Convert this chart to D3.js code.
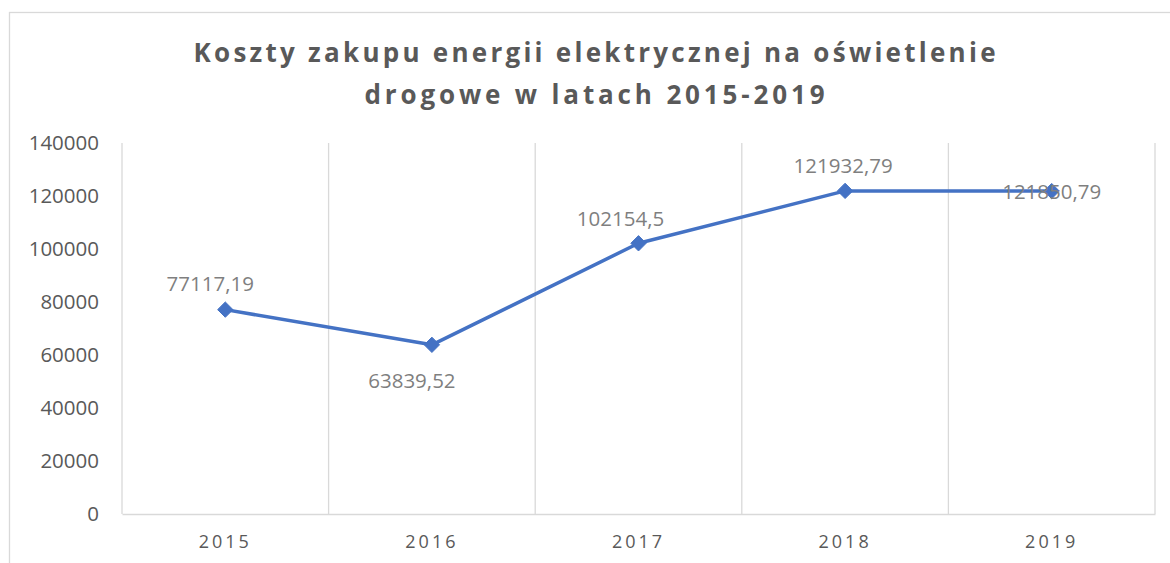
<!DOCTYPE html>
<html><head><meta charset="utf-8">
<script src="https://cdn.jsdelivr.net/npm/d3@7"></script>
<style>
html,body{margin:0;padding:0;background:#fff;}
svg{display:block;font-family:"Open Sans","Noto Sans",sans-serif;}
</style></head>
<body><svg id="c" width="1170" height="563"></svg>
<script>
const titleLines = ["Koszty zakupu energii elektrycznej na oświetlenie", "drogowe w latach 2015-2019"];
const years = ["2015", "2016", "2017", "2018", "2019"];
const costs = [77117.19, 63839.52, 102154.5, 121932.79, 121850.79];
const yTicks = [0, 20000, 40000, 60000, 80000, 100000, 120000, 140000];
// label placement offsets relative to the point (styling, not data)
const labelOffsets = [[-15,-27],[-20,35],[-18,-25],[-2,-26],[0,0]];

const svg = d3.select("#c");
const plot = {left:122, right:1155, top:143, bottom:514};
const grid = "#d9d9d9", txt = "#595959";

svg.append("rect").attr("x",9.5).attr("y",12.5).attr("width",1300).attr("height",700)
  .attr("fill","none").attr("stroke",grid).attr("stroke-width",1.3);

const x = d3.scaleBand().domain(years).range([plot.left, plot.right]).padding(0);
const y = d3.scaleLinear().domain([0,140000]).range([plot.bottom, plot.top]);

const bounds = years.map(d => x(d)).concat([x(years[years.length-1]) + x.bandwidth()]);
svg.append("g").selectAll("line").data(bounds).join("line")
  .attr("x1",d=>d).attr("x2",d=>d).attr("y1",y(140000)).attr("y2",y(0))
  .attr("stroke",grid).attr("stroke-width",1.3);

const xAxis = svg.append("g").attr("transform",`translate(0,${y(0)})`)
  .call(d3.axisBottom(x).tickSize(0).tickPadding(21));
xAxis.select(".domain").attr("stroke",grid).attr("stroke-width",1.3);
xAxis.selectAll("text").attr("fill",txt).style("font-size","18px").style("letter-spacing","3px")
  .attr("font-family","'Open Sans',sans-serif");

const yAxis = svg.append("g").attr("transform",`translate(${plot.left},0)`)
  .call(d3.axisLeft(y).tickValues(yTicks).tickSize(0).tickPadding(23).tickFormat(d=>String(d)));
yAxis.select(".domain").remove();
yAxis.selectAll("text").attr("fill",txt).style("font-size","20.5px").attr("font-family","'Open Sans',sans-serif");

svg.append("g").selectAll("text").data(titleLines).join("text")
  .attr("x",596).attr("y",(d,i)=>62+i*42).attr("text-anchor","middle")
  .attr("fill",txt).style("font-size","26px").style("font-weight","bold").style("letter-spacing","3px")
  .text(d=>d)
  .each(function(d,i){ this.setAttribute("textLength", i===0?805:463); this.setAttribute("lengthAdjust","spacing"); });

const cx = d => x(d) + x.bandwidth()/2;
const pts = years.map((d,i)=>[cx(d), y(costs[i])]);
svg.append("path").datum(pts).attr("d", d3.line())
  .attr("fill","none").attr("stroke","#4472c4").attr("stroke-width",3.5).attr("stroke-linejoin","round");

svg.append("g").selectAll("path").data(pts).join("path")
  .attr("d", d3.symbol().type(d3.symbolDiamond2).size(150))
  .attr("transform", d=>`translate(${d[0]},${d[1]})`)
  .attr("fill","#4472c4").attr("stroke","#4472c4").attr("stroke-width",1);

svg.append("g").selectAll("text").data(costs).join("text")
  .attr("x",(d,i)=>pts[i][0]+labelOffsets[i][0])
  .attr("y",(d,i)=>pts[i][1]+labelOffsets[i][1])
  .attr("text-anchor","middle").attr("dominant-baseline","central")
  .attr("fill","#7f7f7f").style("font-size","20.5px")
  .text(d=>String(d).replace(".",","));
</script></body></html>
